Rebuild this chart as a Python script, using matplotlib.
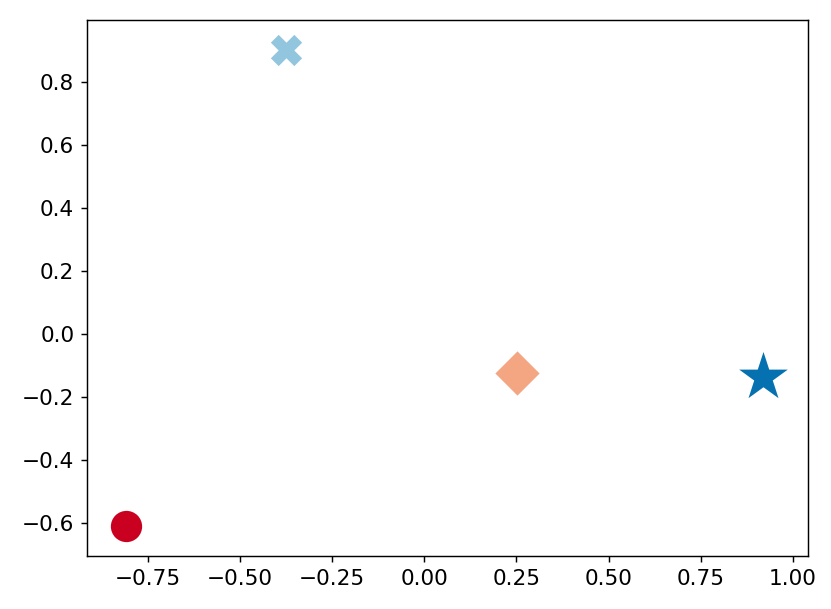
import matplotlib
matplotlib.use("Agg")
import matplotlib.pyplot as plt

xs = [-0.81, -0.375, 0.252, 0.92]
ys = [-0.607, 0.90, -0.122, -0.137]
markers = ["o", "X", "D", "*"]
colors = ["#ca0020", "#92c5de", "#f4a582", "#0571b0"]
sizes = [300, 300, 300, 800]

fig = plt.figure(figsize=(831 / 130, 609 / 130), dpi=130)
ax = fig.add_axes([87 / 831, 1 - 556 / 609, (808 - 87) / 831, (556 - 20) / 609])

for x, y, m, c, s in zip(xs, ys, markers, colors, sizes):
    ax.scatter(x, y, marker=m, color=c, s=s, linewidths=0)

ax.set_xlim(-0.915, 1.041)
ax.set_ylim(-0.703, 0.995)
ax.tick_params(labelsize=12)

fig.savefig("out.png", dpi=130)
